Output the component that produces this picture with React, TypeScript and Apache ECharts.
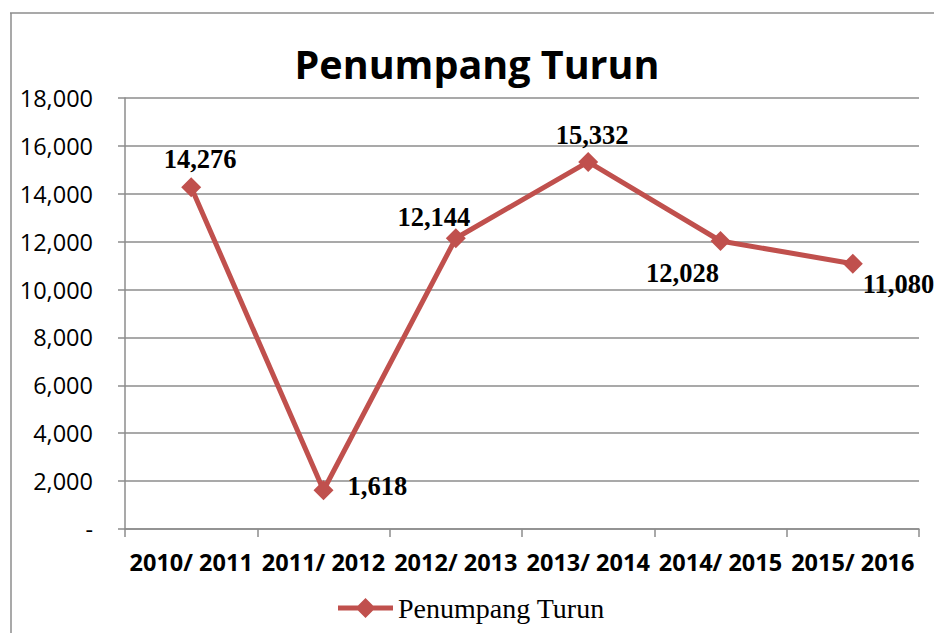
import React, { useEffect, useRef } from "react";
import * as echarts from "echarts";

const categories = ["2010/ 2011", "2011/ 2012", "2012/ 2013", "2013/ 2014", "2014/ 2015", "2015/ 2016"];
const values = [14276, 1618, 12144, 15332, 12028, 11080];
const seriesName = "Penumpang Turun";
const titleText = "Penumpang Turun";

// label placement per point (style only)
const labelPlacement: { position: string; offset: [number, number] }[] = [
  { position: "top", offset: [9, 0] },
  { position: "right", offset: [9, -4] },
  { position: "top", offset: [-22, 7] },
  { position: "top", offset: [4, 2] },
  { position: "bottom", offset: [-38, 4] },
  { position: "right", offset: [-5, 20] },
];

const fmt = (v: number) => v.toLocaleString("en-US");

const legendIcon =
  "path://M0 8.5 L55 8.5 L55 13.5 L0 13.5 Z M17.5 11 L27.5 1 L37.5 11 L27.5 21 Z";

export default function App() {
  const ref = useRef<HTMLDivElement>(null);
  useEffect(() => {
    document.body.style.margin = "0";
    if (!ref.current) return;
    const chart = echarts.init(ref.current, undefined, { renderer: "svg" });
    const red = "#C0504D";
    const gridColor = "#8c8c8c";
    chart.setOption({
      animation: false,
      backgroundColor: "#ffffff",
      graphic: [
        { type: "line", shape: { x1: 11, y1: 13, x2: 11, y2: 633 }, style: { stroke: gridColor, lineWidth: 1.5 } },
        { type: "line", shape: { x1: 10, y1: 13, x2: 934, y2: 13 }, style: { stroke: gridColor, lineWidth: 1.5 } },
        {
          type: "text",
          x: 477,
          y: 64,
          style: {
            text: titleText,
            font: "bold 39.5px 'Open Sans'",
            fill: "#000",
            align: "center",
            verticalAlign: "middle",
          },
        },
      ],
      legend: {
        data: [{ name: seriesName, icon: legendIcon }],
        left: 333,
        top: 589,
        itemWidth: 55,
        itemHeight: 22,
        itemGap: 5,
        itemStyle: { color: red, borderWidth: 0 },
        textStyle: { fontFamily: "'Liberation Serif', 'Times New Roman', serif", fontSize: 28, color: "#000" },
      },
      grid: { left: 125, right: 15, top: 98, bottom: 104, containLabel: false },
      xAxis: {
        type: "category",
        data: categories,
        boundaryGap: true,
        axisLine: { lineStyle: { color: gridColor, width: 1.5 } },
        axisTick: { show: true, length: 8, alignWithLabel: false, lineStyle: { color: gridColor, width: 1.5 } },
        axisLabel: {
          interval: 0,
          margin: 21,
          fontFamily: "'Open Sans'",
          fontWeight: "bold",
          fontSize: 23.5,
          color: "#000",
        },
      },
      yAxis: {
        type: "value",
        min: 0,
        max: 18000,
        interval: 2000,
        axisLine: { show: true, lineStyle: { color: gridColor, width: 1.5 } },
        axisTick: { show: true, length: 7, lineStyle: { color: gridColor, width: 1.5 } },
        splitLine: { lineStyle: { color: gridColor, width: 1.5 } },
        axisLabel: {
          margin: 32,
          fontFamily: "'Open Sans'",
          fontSize: 23.5,
          color: "#000",
          formatter: (v: number) => (v === 0 ? "-" : fmt(v)),
        },
      },
      series: [
        {
          name: seriesName,
          type: "line",
          data: values.map((v, i) => ({
            value: v,
            label: { position: labelPlacement[i].position, offset: labelPlacement[i].offset },
          })),
          symbol: "diamond",
          symbolSize: 20,
          lineStyle: { color: red, width: 5 },
          itemStyle: { color: red },
          label: {
            show: true,
            distance: 5,
            formatter: (p: any) => fmt(p.value),
            fontFamily: "'Liberation Serif', 'Times New Roman', serif",
            fontWeight: "bold",
            fontSize: 26.5,
            color: "#000",
          },
        },
      ],
    });
    return () => chart.dispose();
  }, []);
  return <div ref={ref} style={{ width: 934, height: 633 }} />;
}
